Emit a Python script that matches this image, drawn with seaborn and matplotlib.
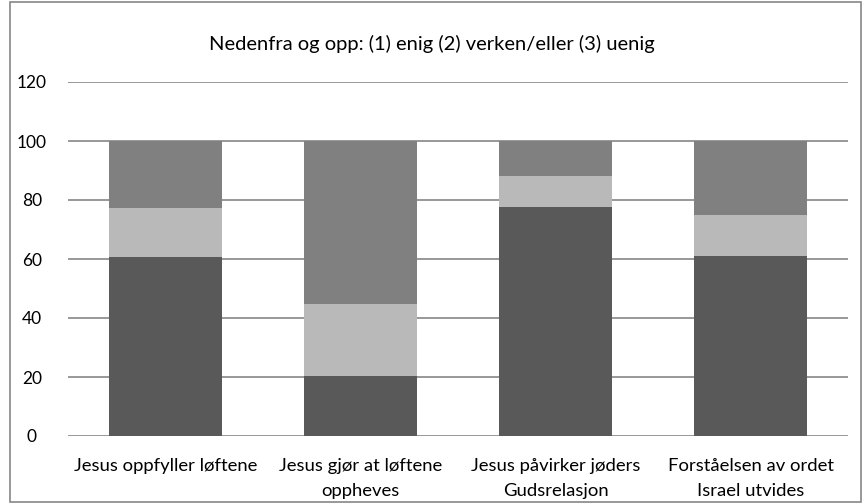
import numpy as np
import pandas as pd
import matplotlib
matplotlib.use("Agg")
import matplotlib.pyplot as plt
import seaborn as sns
from matplotlib.patches import Rectangle

categories = ["Jesus oppfyller løftene", "Jesus gjør at løftene\noppheves",
              "Jesus påvirker jøders\nGudsrelasjon", "Forståelsen av ordet\nIsrael utvides"]
enig = [60.7, 20.2, 77.6, 61.0]
verken = [16.6, 24.5, 10.5, 14.0]
uenig = [22.7, 55.3, 11.9, 25.0]
title = "Nedenfra og opp: (1) enig (2) verken/eller (3) uenig"
yticks = [0, 20, 40, 60, 80, 100, 120]

c_enig = "#595959"
c_verken = "#b9b9b9"
c_uenig = "#808080"

sns.set_theme(style="white")
plt.rcParams['font.family'] = ['Lato', 'DejaVu Sans']

fig = plt.figure(figsize=(8.63, 5.03), dpi=100)
ax = fig.add_axes([68/863, 1-436/503, (848-68)/863, (436-82)/503])

e = np.array(enig)
v = np.array(verken)
u = np.array(uenig)
df = pd.DataFrame({"cat": categories, "enig": e, "ev": e + v, "all": e + v + u})

for col, color in [("all", c_uenig), ("ev", c_verken), ("enig", c_enig)]:
    sns.barplot(data=df, x="cat", y=col, color=color, saturation=1, width=0.575,
                ax=ax, zorder=3, edgecolor="none", linewidth=0)

ax.set_ylim(0, 120)
ax.set_yticks(yticks)
ax.set_xlim(-0.5, 3.5)
ax.yaxis.grid(True, color="#868686", linewidth=1.2, zorder=0)
ax.set_axisbelow(True)
for s in ax.spines.values():
    s.set_visible(False)
ax.set_xlabel("")
ax.set_ylabel("")
ax.tick_params(axis="both", length=0, colors="black")
ax.tick_params(axis="y", pad=26, labelsize=12.5)
ax.tick_params(axis="x", pad=16, labelsize=13.3)
for lbl in ax.get_yticklabels():
    lbl.set_horizontalalignment("center")
for lbl in ax.get_xticklabels():
    lbl.set_linespacing(1.65)
fig.text(0.5, 1-44/503, title, ha="center", va="center", fontsize=14.5, color="black")

fig.patches.append(Rectangle((10/863, 1-502/503), 851/863, 500/503, transform=fig.transFigure,
                             fill=False, edgecolor="#868686", linewidth=1.2))
fig.savefig("out.png", dpi=100)
